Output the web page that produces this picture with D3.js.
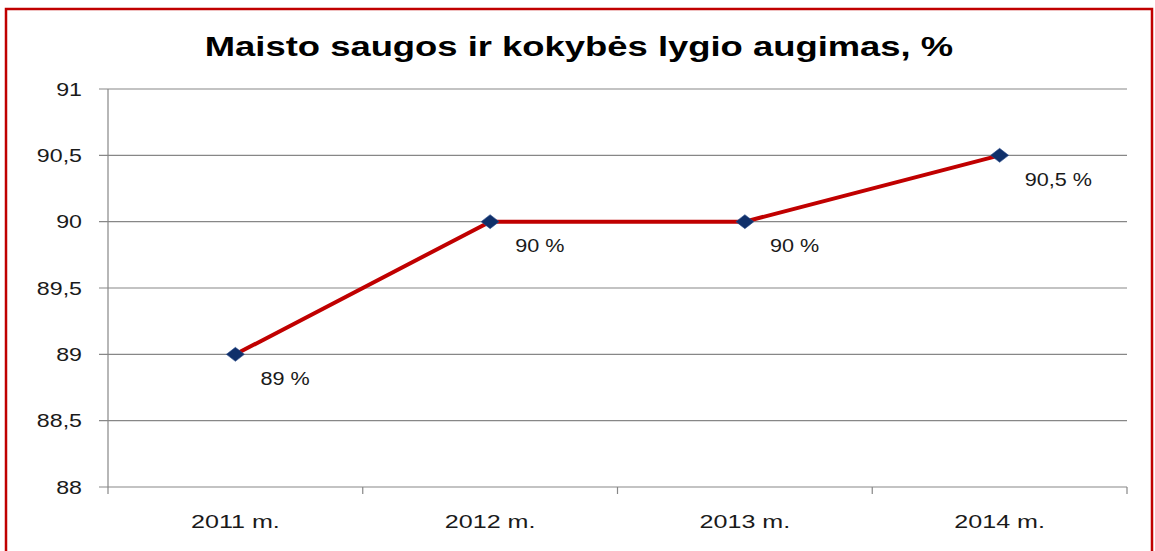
<!DOCTYPE html>
<html>
<head>
<meta charset="utf-8">
<script src="https://cdn.jsdelivr.net/npm/d3@7"></script>
<style>
  body { margin: 0; background: #fff; }
  svg text { font-family: "Liberation Sans", Arial, sans-serif; fill: #1a1a1a; }
</style>
</head>
<body>
<svg id="chart" width="1155" height="551"></svg>
<script>
const title = "Maisto saugos ir kokybės lygio augimas, %";
const years = ["2011 m.", "2012 m.", "2013 m.", "2014 m."];
const values = [89, 90, 90, 90.5];
const yTicks = [88, 88.5, 89, 89.5, 90, 90.5, 91];

const svg = d3.select("#chart");
const plot = { left: 108, right: 1127, top: 89, bottom: 487 };

// outer red frame
svg.append("rect")
    .attr("x", 6).attr("y", 9)
    .attr("width", 1146).attr("height", 560)
    .attr("fill", "none")
    .attr("stroke", "#c00000")
    .attr("stroke-width", 2.5);

const x = d3.scaleBand().domain(years).range([plot.left, plot.right]);
const y = d3.scaleLinear().domain([88, 91]).range([plot.bottom, plot.top]);
const fmt = v => String(v).replace(".", ",");

// widen text a bit like the original (stretched image)
function widen(sel, k) {
    sel.each(function() {
        const w = this.getComputedTextLength();
        d3.select(this).attr("textLength", w * k).attr("lengthAdjust", "spacingAndGlyphs");
    });
}

// grid lines
svg.append("g").selectAll("line")
    .data(yTicks)
    .join("line")
    .attr("x1", plot.left - 9).attr("x2", plot.right)
    .attr("y1", d => y(d)).attr("y2", d => y(d))
    .attr("stroke", "#878787").attr("stroke-width", 1.2);

// y axis line
svg.append("line")
    .attr("x1", plot.left).attr("x2", plot.left)
    .attr("y1", plot.top).attr("y2", plot.bottom + 7)
    .attr("stroke", "#878787").attr("stroke-width", 1.2);

// x tick marks at band edges
const edges = years.map(d => x(d)).concat([plot.right]);
svg.append("g").selectAll("line")
    .data(edges.slice(1))
    .join("line")
    .attr("x1", d => d).attr("x2", d => d)
    .attr("y1", plot.bottom).attr("y2", plot.bottom + 7)
    .attr("stroke", "#878787").attr("stroke-width", 1.2);

// y tick labels
svg.append("g").selectAll("text")
    .data(yTicks)
    .join("text")
    .attr("x", 82)
    .attr("y", d => y(d))
    .attr("dy", "0.35em")
    .attr("text-anchor", "end")
    .attr("font-size", 19)
    .text(d => fmt(d))
    .call(widen, 1.22);

// x labels
svg.append("g").selectAll("text")
    .data(years)
    .join("text")
    .attr("x", d => x(d) + x.bandwidth() / 2)
    .attr("y", 521)
    .attr("dy", "0.35em")
    .attr("text-anchor", "middle")
    .attr("font-size", 19)
    .text(d => d)
    .call(widen, 1.32);

// title
svg.append("text")
    .attr("x", 579).attr("y", 46)
    .attr("dy", "0.35em")
    .attr("text-anchor", "middle")
    .attr("font-size", 28)
    .attr("font-weight", "bold")
    .style("fill", "#000")
    .text(title)
    .call(widen, 1.3);

const pts = years.map((d, i) => ({ year: d, value: values[i] }));

// series line
svg.append("path")
    .datum(pts)
    .attr("fill", "none")
    .attr("stroke", "#c00000")
    .attr("stroke-width", 4)
    .attr("d", d3.line().x(d => x(d.year) + x.bandwidth() / 2).y(d => y(d.value)));

// diamond markers
svg.append("g").selectAll("path")
    .data(pts)
    .join("path")
    .attr("transform", d => `translate(${x(d.year) + x.bandwidth() / 2},${y(d.value)})`)
    .attr("d", "M0,-7L9,0L0,7L-9,0Z")
    .attr("fill", "#10306a")
    .attr("stroke", "#2d4f8f")
    .attr("stroke-width", 0.6);

// data labels
svg.append("g").selectAll("text")
    .data(pts)
    .join("text")
    .attr("x", d => x(d.year) + x.bandwidth() / 2 + 25)
    .attr("y", d => y(d.value) + 24)
    .attr("dy", "0.35em")
    .attr("font-size", 18)
    .text(d => fmt(d.value) + " %")
    .call(widen, 1.2);
</script>
</body>
</html>
